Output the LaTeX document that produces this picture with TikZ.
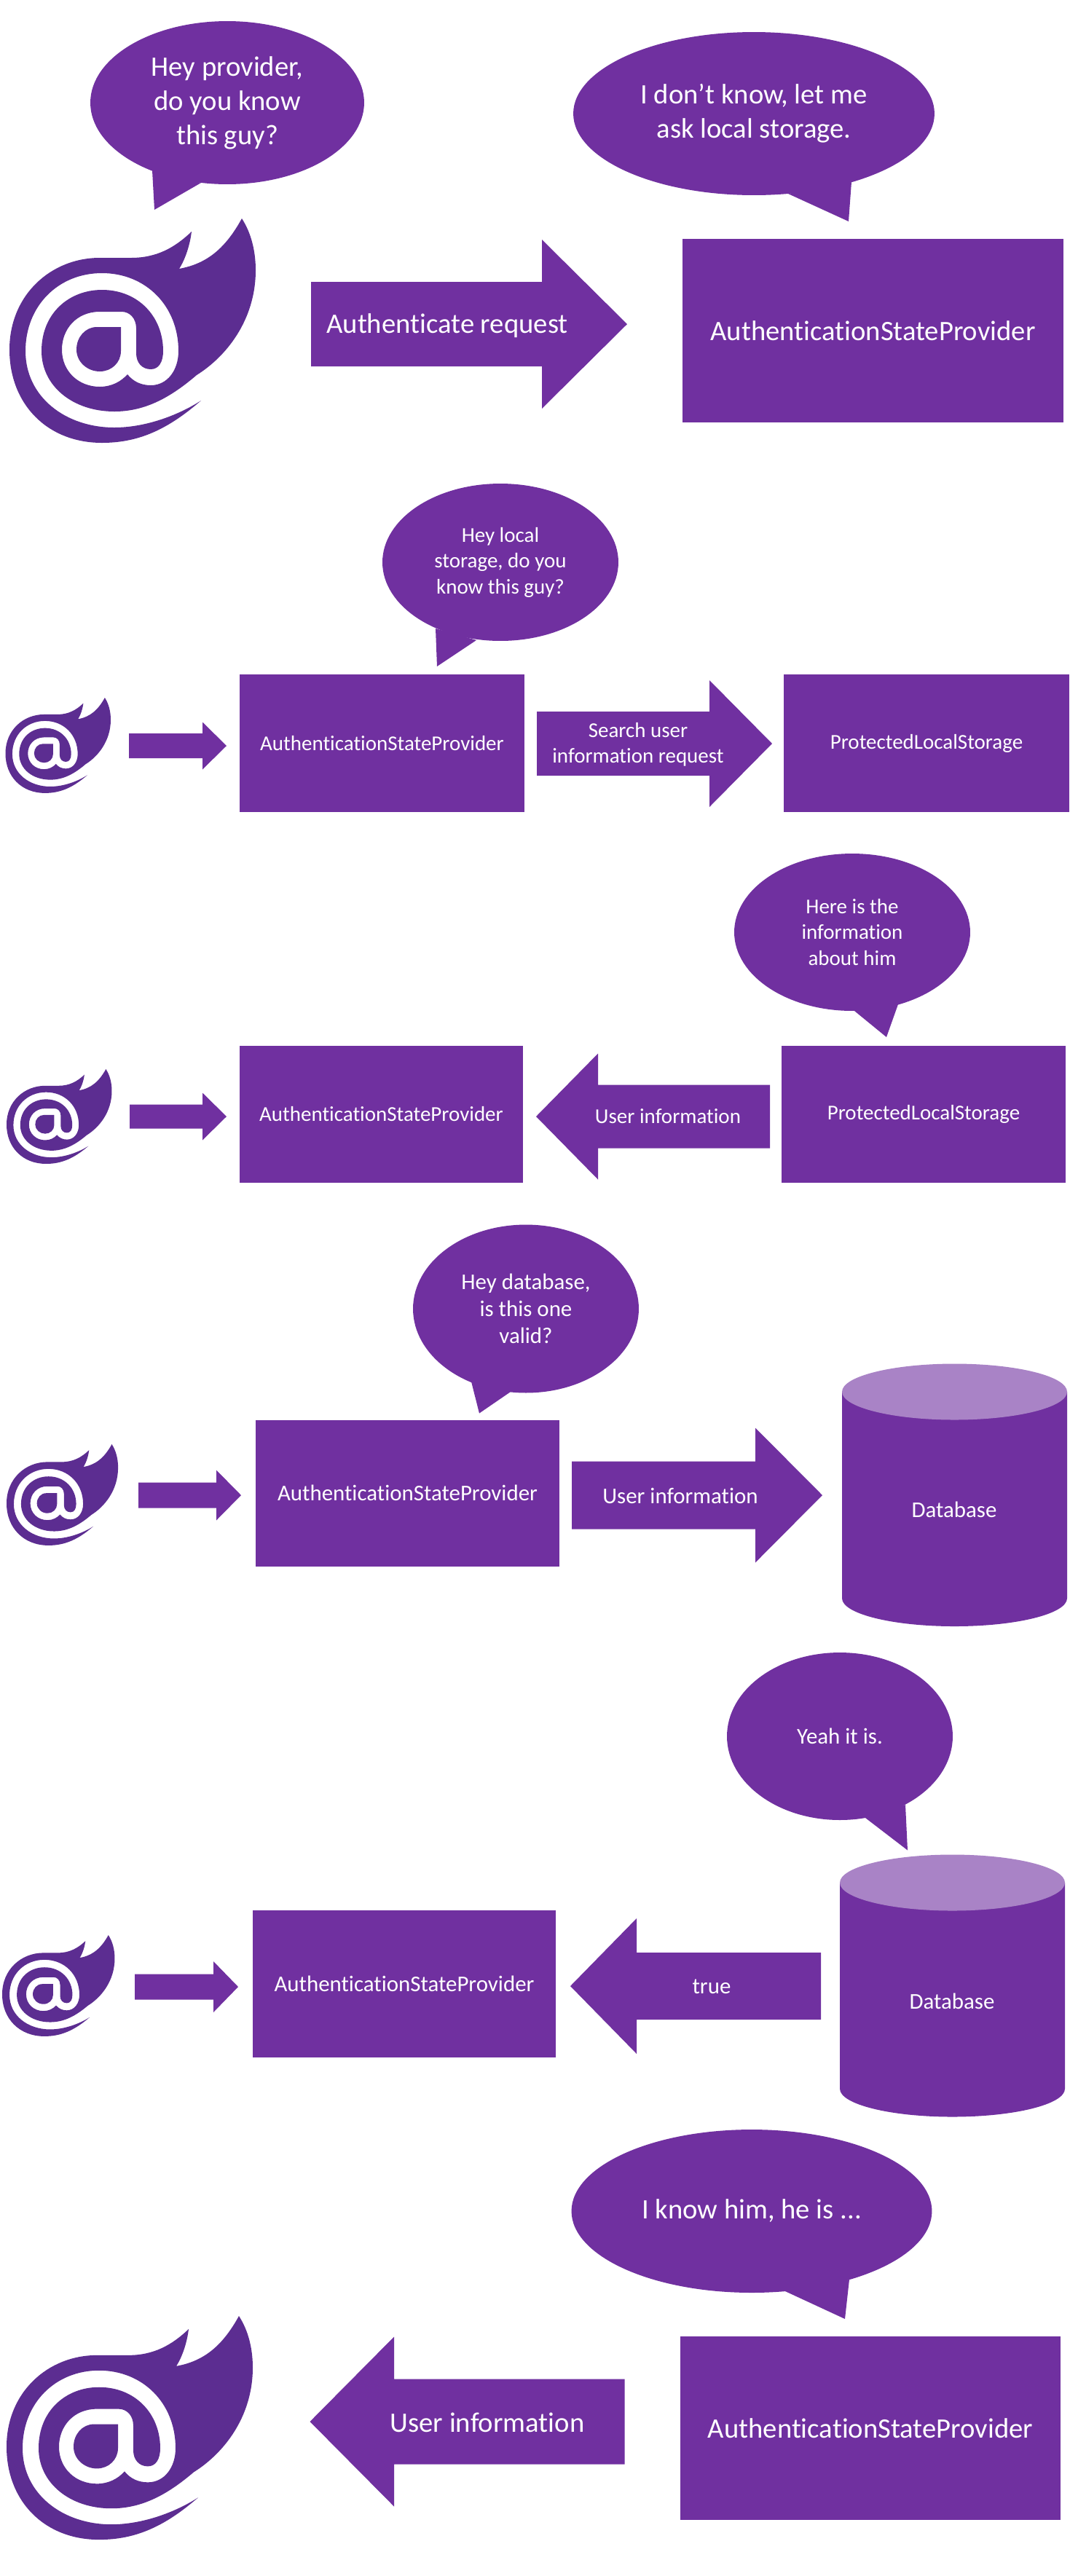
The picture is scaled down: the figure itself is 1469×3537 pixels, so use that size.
\documentclass[tikz,border=0pt]{standalone}
\usepackage{fontspec}
\setmainfont{Carlito}[Ligatures=NoCommon]
\usetikzlibrary{shapes.geometric}
\definecolor{boxpurple}{HTML}{7030A0}
\definecolor{logopurple}{HTML}{5C2D91}
\definecolor{lidpurple}{HTML}{A983C6}
\tikzset{
  label big/.style={text=white, inner sep=0pt, align=center, font=\fontsize{22}{26.7}\selectfont},
  label mid/.style={text=white, inner sep=0pt, align=center, font=\fontsize{17.6}{21}\selectfont},
  label small/.style={text=white, inner sep=0pt, align=center, font=\fontsize{16.5}{20.2}\selectfont},
  bubble/.style={ellipse, fill=boxpurple, inner sep=0pt, outer sep=0pt},
  box/.style={rectangle, fill=boxpurple, inner sep=0pt, outer sep=0pt},
  pics/logo/.style={code={
    \fill[logopurple, shift={(-13,-300)}] (276,550)
      .. controls (230,590) and (190,608) .. (140,608)
      .. controls (65,608) and (13,555) .. (13,480)
      .. controls (13,405) and (70,354) .. (137,354)
      -- (180,354)
      .. controls (215,354) and (240,340) .. (263,318)
      .. controls (261,335) and (255,355) .. (246,369)
      .. controls (285,362) and (310,340) .. (332,300)
      .. controls (345,320) and (351,345) .. (351,371)
      .. controls (351,440) and (310,490) .. (270,515)
      .. controls (235,545) and (200,565) .. (157,565)
      .. controls (100,565) and (57,530) .. (57,482)
      .. controls (57,430) and (95,398) .. (140,398)
      .. controls (190,398) and (224,435) .. (224,482)
      .. controls (224,497) and (218,507) .. (207,507)
      .. controls (195,507) and (187,498) .. (187,485)
      -- (187,451)
      .. controls (187,437) and (178,428) .. (167,428)
      -- (137,428)
      .. controls (105,428) and (85,452) .. (85,480)
      .. controls (85,510) and (108,531) .. (137,531)
      .. controls (153,531) and (166,524) .. (175,514)
      .. controls (183,524) and (194,529) .. (207,529)
      .. controls (230,529) and (245,508) .. (245,482)
      .. controls (245,420) and (200,375) .. (140,375)
      .. controls (80,375) and (35,420) .. (35,482)
      .. controls (35,545) and (90,587) .. (157,587)
      .. controls (200,587) and (245,570) .. (276,550) -- cycle
      (166,449) -- (133,449)
      .. controls (117,449) and (105,463) .. (105,480)
      .. controls (105,497) and (120,510) .. (137,510)
      .. controls (153,510) and (166,498) .. (166,482) -- cycle;
  }}
}
\begin{document}
\begin{tikzpicture}[x=0.02cm, y=-0.02cm]
  \useasboundingbox (0,0) rectangle (1469,3537);
  \pic at (13,300) {logo};
  \pic[xscale=0.4275, yscale=0.425] at (7.5,958) {logo};
  \pic[xscale=0.4275, yscale=0.422] at (9,1468) {logo};
  \pic[xscale=0.453, yscale=0.451] at (9,1983) {logo};
  \pic[xscale=0.457, yscale=0.451] at (3,2657) {logo};
  \pic[xscale=1, yscale=0.997] at (9,3180) {logo};
  \foreach \xa/\xb/\xc/\yc/\sh/\hd in {
      427/744/861/445/58/116, 177/278/311/1024/17/32.5, 737/974/1060/1021/44/87,
      178/278/311/1533/16.5/32.5, 1057/821/736/1533/43.5/86.5,
      190/297/331/2053/17.5/34.5, 785/1037/1129/2053/46.5/92.5,
      185/293/327/2728/17.5/35, 1127/874/783/2727/46/93,
      857.5/541/425.5/3325/58.5/116.5}
    \fill[boxpurple] ({\xa},{\yc-\sh}) -- ({\xb},{\yc-\sh}) -- ({\xb},{\yc-\hd}) -- ({\xc},{\yc})
      -- ({\xb},{\yc+\hd}) -- ({\xb},{\yc+\sh}) -- ({\xa},{\yc+\sh}) -- cycle;
  \foreach \xa/\ya/\xb/\yb/\xc/\yc in {
      209/234/212/288/276/251, 1082/266/1165/304/1169/250, 598/863/600/915/654/879,
      1173/1388/1217/1424/1233/1379, 647/1897/658/1940.5/701/1911,
      1188/2496/1246/2540.5/1243/2478, 1078/3146/1160/3184/1166/3130}
    \fill[boxpurple] (\xa,\ya) -- (\xb,\yb) -- (\xc,\yc) -- cycle;
  \foreach \xm/\ymid/\ybot in {1310.5/1911/2194.5, 1307.5/2585/2868} {
    \fill[boxpurple] ({\xm-154.5},\ymid) -- ({\xm-154.5},\ybot)
      arc[x radius=154.5, y radius=38.5, start angle=180, end angle=0] -- ({\xm+154.5},\ymid) -- cycle;
    \fill[lidpurple] (\xm,\ymid) ellipse[x radius=154.5, y radius=38.5];
  }
  \node[bubble, minimum width=7.52cm, minimum height=4.48cm, label big] (bubbleProvider) at (312,141) {Hey provider,\\do you know\\this guy?};
  \node[bubble, minimum width=9.92cm, minimum height=4.48cm, label big] (bubbleUnknown) at (1035,156) {I don’t know, let me\\ask local storage.};
  \node[box, minimum width=10.46cm, minimum height=5.04cm, label big] (stateOne) at (1198.5,454) {AuthenticationStateProvider};
  \node[label big] (askLabel) at (614,447) {Authenticate request};
  \node[bubble, minimum width=6.48cm, minimum height=4.32cm, label small] (bubbleStorage) at (687,772) {Hey local\\storage, do you\\know this guy?};
  \node[box, minimum width=7.82cm, minimum height=3.78cm, label small] (stateTwo) at (524.5,1020.5) {AuthenticationStateProvider};
  \node[box, minimum width=7.84cm, minimum height=3.78cm, label small] (storageTwo) at (1272,1020.5) {ProtectedLocalStorage};
  \node[label small] (searchLabel) at (876,1022) {Search user\\information request};
  \node[bubble, minimum width=6.48cm, minimum height=4.32cm, label small] (bubbleInfo) at (1170,1280) {Here is the\\information\\about him};
  \node[box, minimum width=7.78cm, minimum height=3.76cm, label small] (stateThree) at (523.5,1530) {AuthenticationStateProvider};
  \node[box, minimum width=7.8cm, minimum height=3.76cm, label small] (storageThree) at (1268,1530) {ProtectedLocalStorage};
  \node[label small] (infoLabel) at (917,1533) {User information};
  \node[bubble, minimum width=6.2cm, minimum height=4.62cm, label mid] (bubbleValid) at (722,1797) {Hey database,\\is this one\\valid?};
  \node[box, minimum width=8.34cm, minimum height=4.02cm, label mid] (stateFour) at (559.5,2050) {AuthenticationStateProvider};
  \node[label mid] (userLabel) at (934,2054) {User information};
  \node[label mid] (databaseFour) at (1310,2073) {Database};
  \node[bubble, minimum width=6.2cm, minimum height=4.6cm, label mid] (bubbleYes) at (1153,2384) {Yeah it is.};
  \node[box, minimum width=8.32cm, minimum height=4.04cm, label mid] (stateFive) at (555,2724) {AuthenticationStateProvider};
  \node[label mid] (trueLabel) at (977,2728) {true};
  \node[label mid] (databaseFive) at (1307,2748) {Database};
  \node[bubble, minimum width=9.9cm, minimum height=4.48cm, label big] (bubbleKnown) at (1032,3036) {I know him, he is ...};
  \node[box, minimum width=10.44cm, minimum height=5.04cm, label big] (stateSix) at (1195,3334) {AuthenticationStateProvider};
  \node[label big] (backLabel) at (669,3326) {User information};
\end{tikzpicture}
\end{document}
